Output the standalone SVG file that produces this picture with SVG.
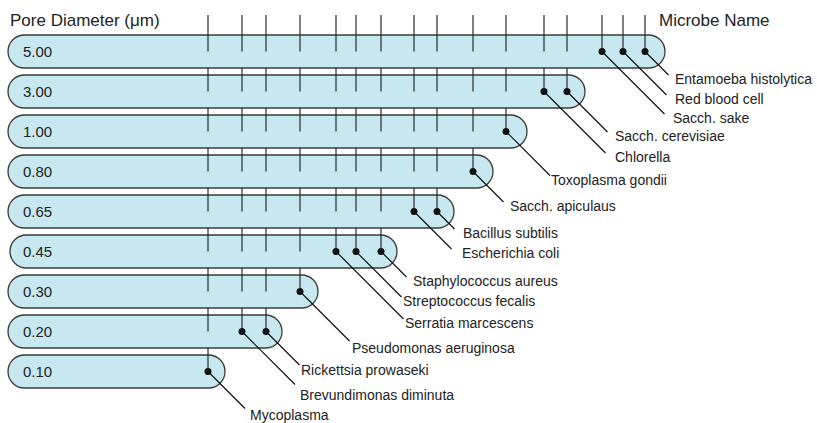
<svg xmlns="http://www.w3.org/2000/svg" width="817" height="423" viewBox="0 0 817 423">
<style>
.bar{fill:#c8e8f1;stroke:#3a3a3a;stroke-width:1.3}
.tick{stroke:#2a2a2a;stroke-width:1.2}
.conn{stroke:#111;stroke-width:1.2;fill:none}
.dot{fill:#111}
.hdr{font-family:"Liberation Sans",Arial,sans-serif;font-size:17px;fill:#222}
.val{font-family:"Liberation Sans",Arial,sans-serif;font-size:15px;fill:#222}
.lbl{font-family:"Liberation Sans",Arial,sans-serif;font-size:14px;fill:#222}
</style>
<rect width="817" height="423" fill="#fff"/>
<text class="hdr" x="10" y="26">Pore Diameter (μm)</text>
<text class="hdr" x="659" y="26">Microbe Name</text>

<g id="bar-5.00">
<rect class="bar" x="8" y="35" width="657" height="33" rx="16.5"/>
<path class="tick" d="M208 15V51.5M242 15V51.5M266 15V51.5M300 15V51.5M336 15V51.5M356 15V51.5M381 15V51.5M414 15V51.5M437 15V51.5M473 15V51.5M506 15V51.5M544 15V51.5M567 15V51.5M602 15V51.5M623 15V51.5M645 15V51.5"/>
<text class="val" x="23" y="57">5.00</text>
</g>
<g id="bar-3.00">
<rect class="bar" x="8" y="75" width="577" height="33" rx="16.5"/>
<path class="tick" d="M208 68V91.5M242 68V91.5M266 68V91.5M300 68V91.5M336 68V91.5M356 68V91.5M381 68V91.5M414 68V91.5M437 68V91.5M473 68V91.5M506 68V91.5M544 68V91.5M567 68V91.5"/>
<text class="val" x="23" y="97">3.00</text>
</g>
<g id="bar-1.00">
<rect class="bar" x="8" y="115" width="519" height="33" rx="16.5"/>
<path class="tick" d="M208 108V131.5M242 108V131.5M266 108V131.5M300 108V131.5M336 108V131.5M356 108V131.5M381 108V131.5M414 108V131.5M437 108V131.5M473 108V131.5M506 108V131.5"/>
<text class="val" x="23" y="137">1.00</text>
</g>
<g id="bar-0.80">
<rect class="bar" x="8" y="155" width="485" height="33" rx="16.5"/>
<path class="tick" d="M208 148V171.5M242 148V171.5M266 148V171.5M300 148V171.5M336 148V171.5M356 148V171.5M381 148V171.5M414 148V171.5M437 148V171.5M473 148V171.5"/>
<text class="val" x="23" y="177">0.80</text>
</g>
<g id="bar-0.65">
<rect class="bar" x="8" y="195" width="446" height="33" rx="16.5"/>
<path class="tick" d="M208 188V211.5M242 188V211.5M266 188V211.5M300 188V211.5M336 188V211.5M356 188V211.5M381 188V211.5M414 188V211.5M437 188V211.5"/>
<text class="val" x="23" y="217">0.65</text>
</g>
<g id="bar-0.45">
<rect class="bar" x="10" y="235" width="387" height="33" rx="16.5"/>
<path class="tick" d="M208 228V251.5M242 228V251.5M266 228V251.5M300 228V251.5M336 228V251.5M356 228V251.5M381 228V251.5"/>
<text class="val" x="23" y="257">0.45</text>
</g>
<g id="bar-0.30">
<rect class="bar" x="8" y="275" width="310" height="33" rx="16.5"/>
<path class="tick" d="M208 268V291.5M242 268V291.5M266 268V291.5M300 268V291.5"/>
<text class="val" x="23" y="297">0.30</text>
</g>
<g id="bar-0.20">
<rect class="bar" x="8" y="315" width="274" height="33" rx="16.5"/>
<path class="tick" d="M208 308V331.5M242 308V331.5M266 308V331.5"/>
<text class="val" x="23" y="337">0.20</text>
</g>
<g id="bar-0.10">
<rect class="bar" x="8" y="355" width="217" height="33" rx="16.5"/>
<path class="tick" d="M208 348V371.5"/>
<text class="val" x="23" y="377">0.10</text>
</g>

<g id="connectors">
<path class="conn" d="M645 51.5L668.5 75M623 51.5L666.5 95M602 51.5L664.5 114M567 91.5L607.5 132M544 91.5L605.5 153M506 131.5L550 175.5M473 171.5L503.5 202M437 211.5L454.5 229M414 211.5L451.5 249M381 251.5L406.5 277M356 251.5L401.5 297M336 251.5L403.5 319M300 291.5L349.5 341M266 331.5L299.5 365M242 331.5L295 384.5M208 371.5L245 408.5"/>
<g class="dot">
<circle cx="645" cy="51.5" r="3.5"/><circle cx="623" cy="51.5" r="3.5"/><circle cx="602" cy="51.5" r="3.5"/>
<circle cx="567" cy="91.5" r="3.5"/><circle cx="544" cy="91.5" r="3.5"/>
<circle cx="506" cy="131.5" r="3.5"/>
<circle cx="473" cy="171.5" r="3.5"/>
<circle cx="437" cy="211.5" r="3.5"/><circle cx="414" cy="211.5" r="3.5"/>
<circle cx="381" cy="251.5" r="3.5"/><circle cx="356" cy="251.5" r="3.5"/><circle cx="336" cy="251.5" r="3.5"/>
<circle cx="300" cy="291.5" r="3.5"/>
<circle cx="266" cy="331.5" r="3.5"/><circle cx="242" cy="331.5" r="3.5"/>
<circle cx="208" cy="371.5" r="3.5"/>
</g>
</g>

<g id="labels">
<text class="lbl" x="675" y="84">Entamoeba histolytica</text>
<text class="lbl" x="675" y="104">Red blood cell</text>
<text class="lbl" x="673" y="123">Sacch. sake</text>
<text class="lbl" x="615" y="141">Sacch. cerevisiae</text>
<text class="lbl" x="615" y="162">Chlorella</text>
<text class="lbl" x="551" y="185">Toxoplasma gondii</text>
<text class="lbl" x="510" y="211">Sacch. apiculaus</text>
<text class="lbl" x="463" y="238">Bacillus subtilis</text>
<text class="lbl" x="462" y="258">Escherichia coli</text>
<text class="lbl" x="413" y="286">Staphylococcus aureus</text>
<text class="lbl" x="403" y="306">Streptococcus fecalis</text>
<text class="lbl" x="405" y="328">Serratia marcescens</text>
<text class="lbl" x="352" y="353">Pseudomonas aeruginosa</text>
<text class="lbl" x="301" y="375">Rickettsia prowaseki</text>
<text class="lbl" x="300" y="400">Brevundimonas diminuta</text>
<text class="lbl" x="250" y="420">Mycoplasma</text>
</g>
</svg>
